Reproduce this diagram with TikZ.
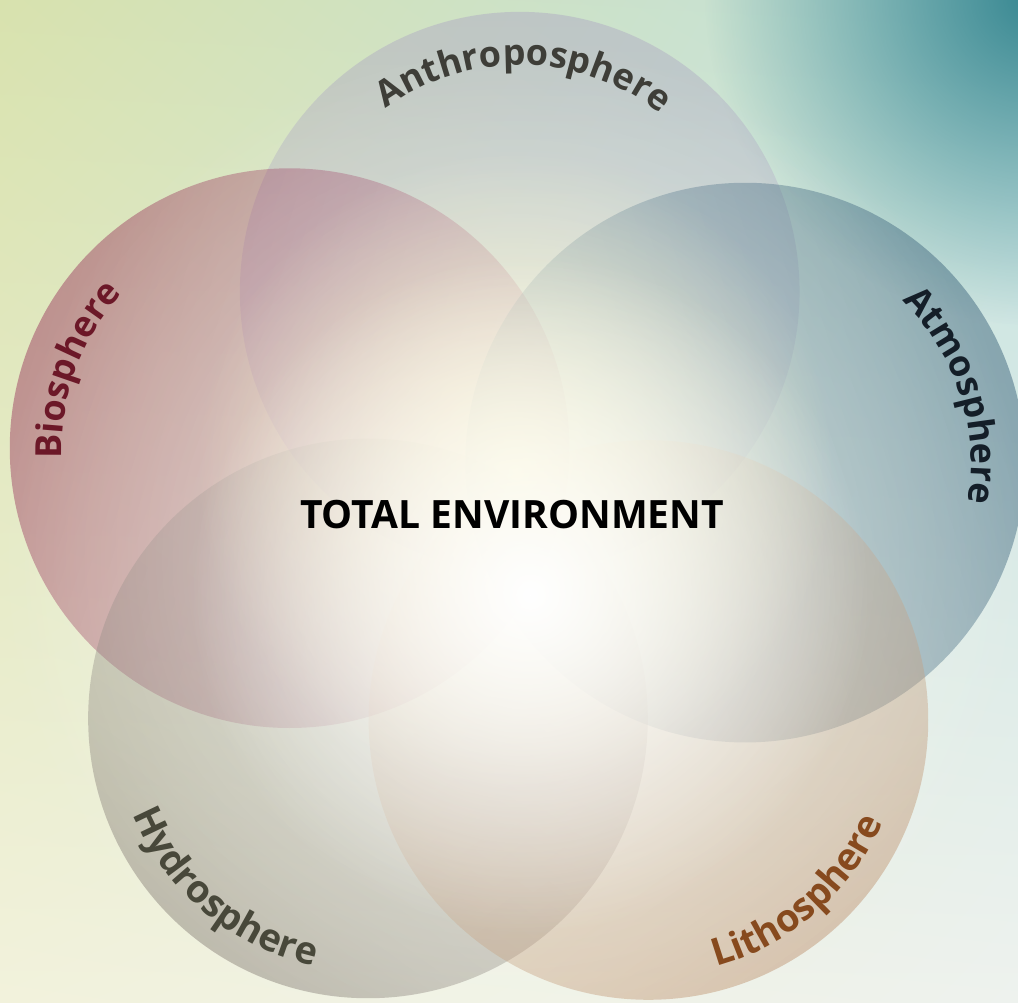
\documentclass[tikz,border=0pt]{standalone}
\usepackage{fontspec}
\setmainfont{Open Sans}
\usetikzlibrary{fadings,shadings,decorations.text}
\definecolor{bgUL}{RGB}{216,226,174}
\definecolor{bgUR}{RGB}{194,225,222}
\definecolor{bgLL}{RGB}{242,242,220}
\definecolor{bgLR}{RGB}{238,242,238}
\definecolor{tealC}{RGB}{55,135,145}
\definecolor{anthroC}{RGB}{175,170,195}
\definecolor{bioC}{RGB}{155,58,95}
\definecolor{atmC}{RGB}{58,98,122}
\definecolor{hydroC}{RGB}{136,128,120}
\definecolor{lithoC}{RGB}{190,146,110}
\definecolor{glowY}{RGB}{255,250,208}
\definecolor{anthroT}{RGB}{62,62,56}
\definecolor{bioT}{RGB}{108,24,40}
\definecolor{atmT}{RGB}{20,30,40}
\definecolor{hydroT}{RGB}{72,72,58}
\definecolor{lithoT}{RGB}{135,74,30}
\pgfdeclarehorizontalshading{rimshade}{100bp}{color(0bp)=(transparent!18);
  color(15bp)=(transparent!44); color(35bp)=(transparent!58);
  color(60bp)=(transparent!70); color(100bp)=(transparent!82)}
\tikzfading[name=sidefade, shading=rimshade]
\tikzfading[name=glowfade, inner color=transparent!0, outer color=transparent!100]
\newcommand\lblfont{\bfseries\fontsize{36}{40}\selectfont}
\newcommand\lblfontb{\bfseries\fontsize{38}{42}\selectfont}
\newcommand\spherelabel[7]{%
  \path[postaction={decorate}, decoration={text along path, text align=center,
    text color=#5, text={|#7|#6}}]
    (#1) ++(#3:#2) arc[start angle=#3, end angle=#4, radius=#2];}
\begin{document}
\begin{tikzpicture}[x=1pt,y=1pt,
  sphere/.style={path fading=sidefade, fading angle=#1}]
\useasboundingbox (0,0) rectangle (1018,-1002);
\clip (0,0) rectangle (1018,-1002);
% background
\shade[upper left=bgUL, upper right=bgUR, lower left=bgLL, lower right=bgLR]
  (0,0) rectangle (1018,-1002);
\fill[tealC, path fading=glowfade] (1035,5) circle[radius=330];
% circle centres
\coordinate (cA) at (520,-292);
\coordinate (cB) at (290,-448);
\coordinate (cT) at (745,-463);
\coordinate (cH) at (368,-718);
\coordinate (cL) at (648,-720);
% spheres
\fill[anthroC, sphere=-90] (cA) circle[radius=280];
\fill[bioC, sphere=-18] (cB) circle[radius=280];
\fill[atmC, sphere=-162] (cT) circle[radius=280];
\fill[hydroC, sphere=54] (cH) circle[radius=280];
\fill[lithoC, sphere=126] (cL) circle[radius=280];
% central glow
\fill[white, opacity=0.6, path fading=glowfade] (515,-560) circle[radius=520];
\fill[glowY, opacity=0.85, path fading=glowfade] (515,-470) circle[radius=320];
\fill[white, path fading=glowfade] (530,-595) circle[radius=340];
% labels
\spherelabel{cA}{227}{159}{19}{anthroT}{Anthroposphere}{\lblfont}
\spherelabel{cB}{228}{230}{90}{bioT}{Biosphere}{\lblfont}
\spherelabel{cT}{226}{88}{-52}{atmT}{Atmosphere}{\lblfont}
\spherelabel{cH}{254}{160}{300}{hydroT}{Hydrosphere}{\lblfontb}
\spherelabel{cL}{256}{241}{381}{lithoT}{Lithosphere}{\lblfontb}
\node[font=\bfseries\fontsize{39}{44}\selectfont, text=black] (total) at (512,-515) {TOTAL ENVIRONMENT};
\end{tikzpicture}
\end{document}
